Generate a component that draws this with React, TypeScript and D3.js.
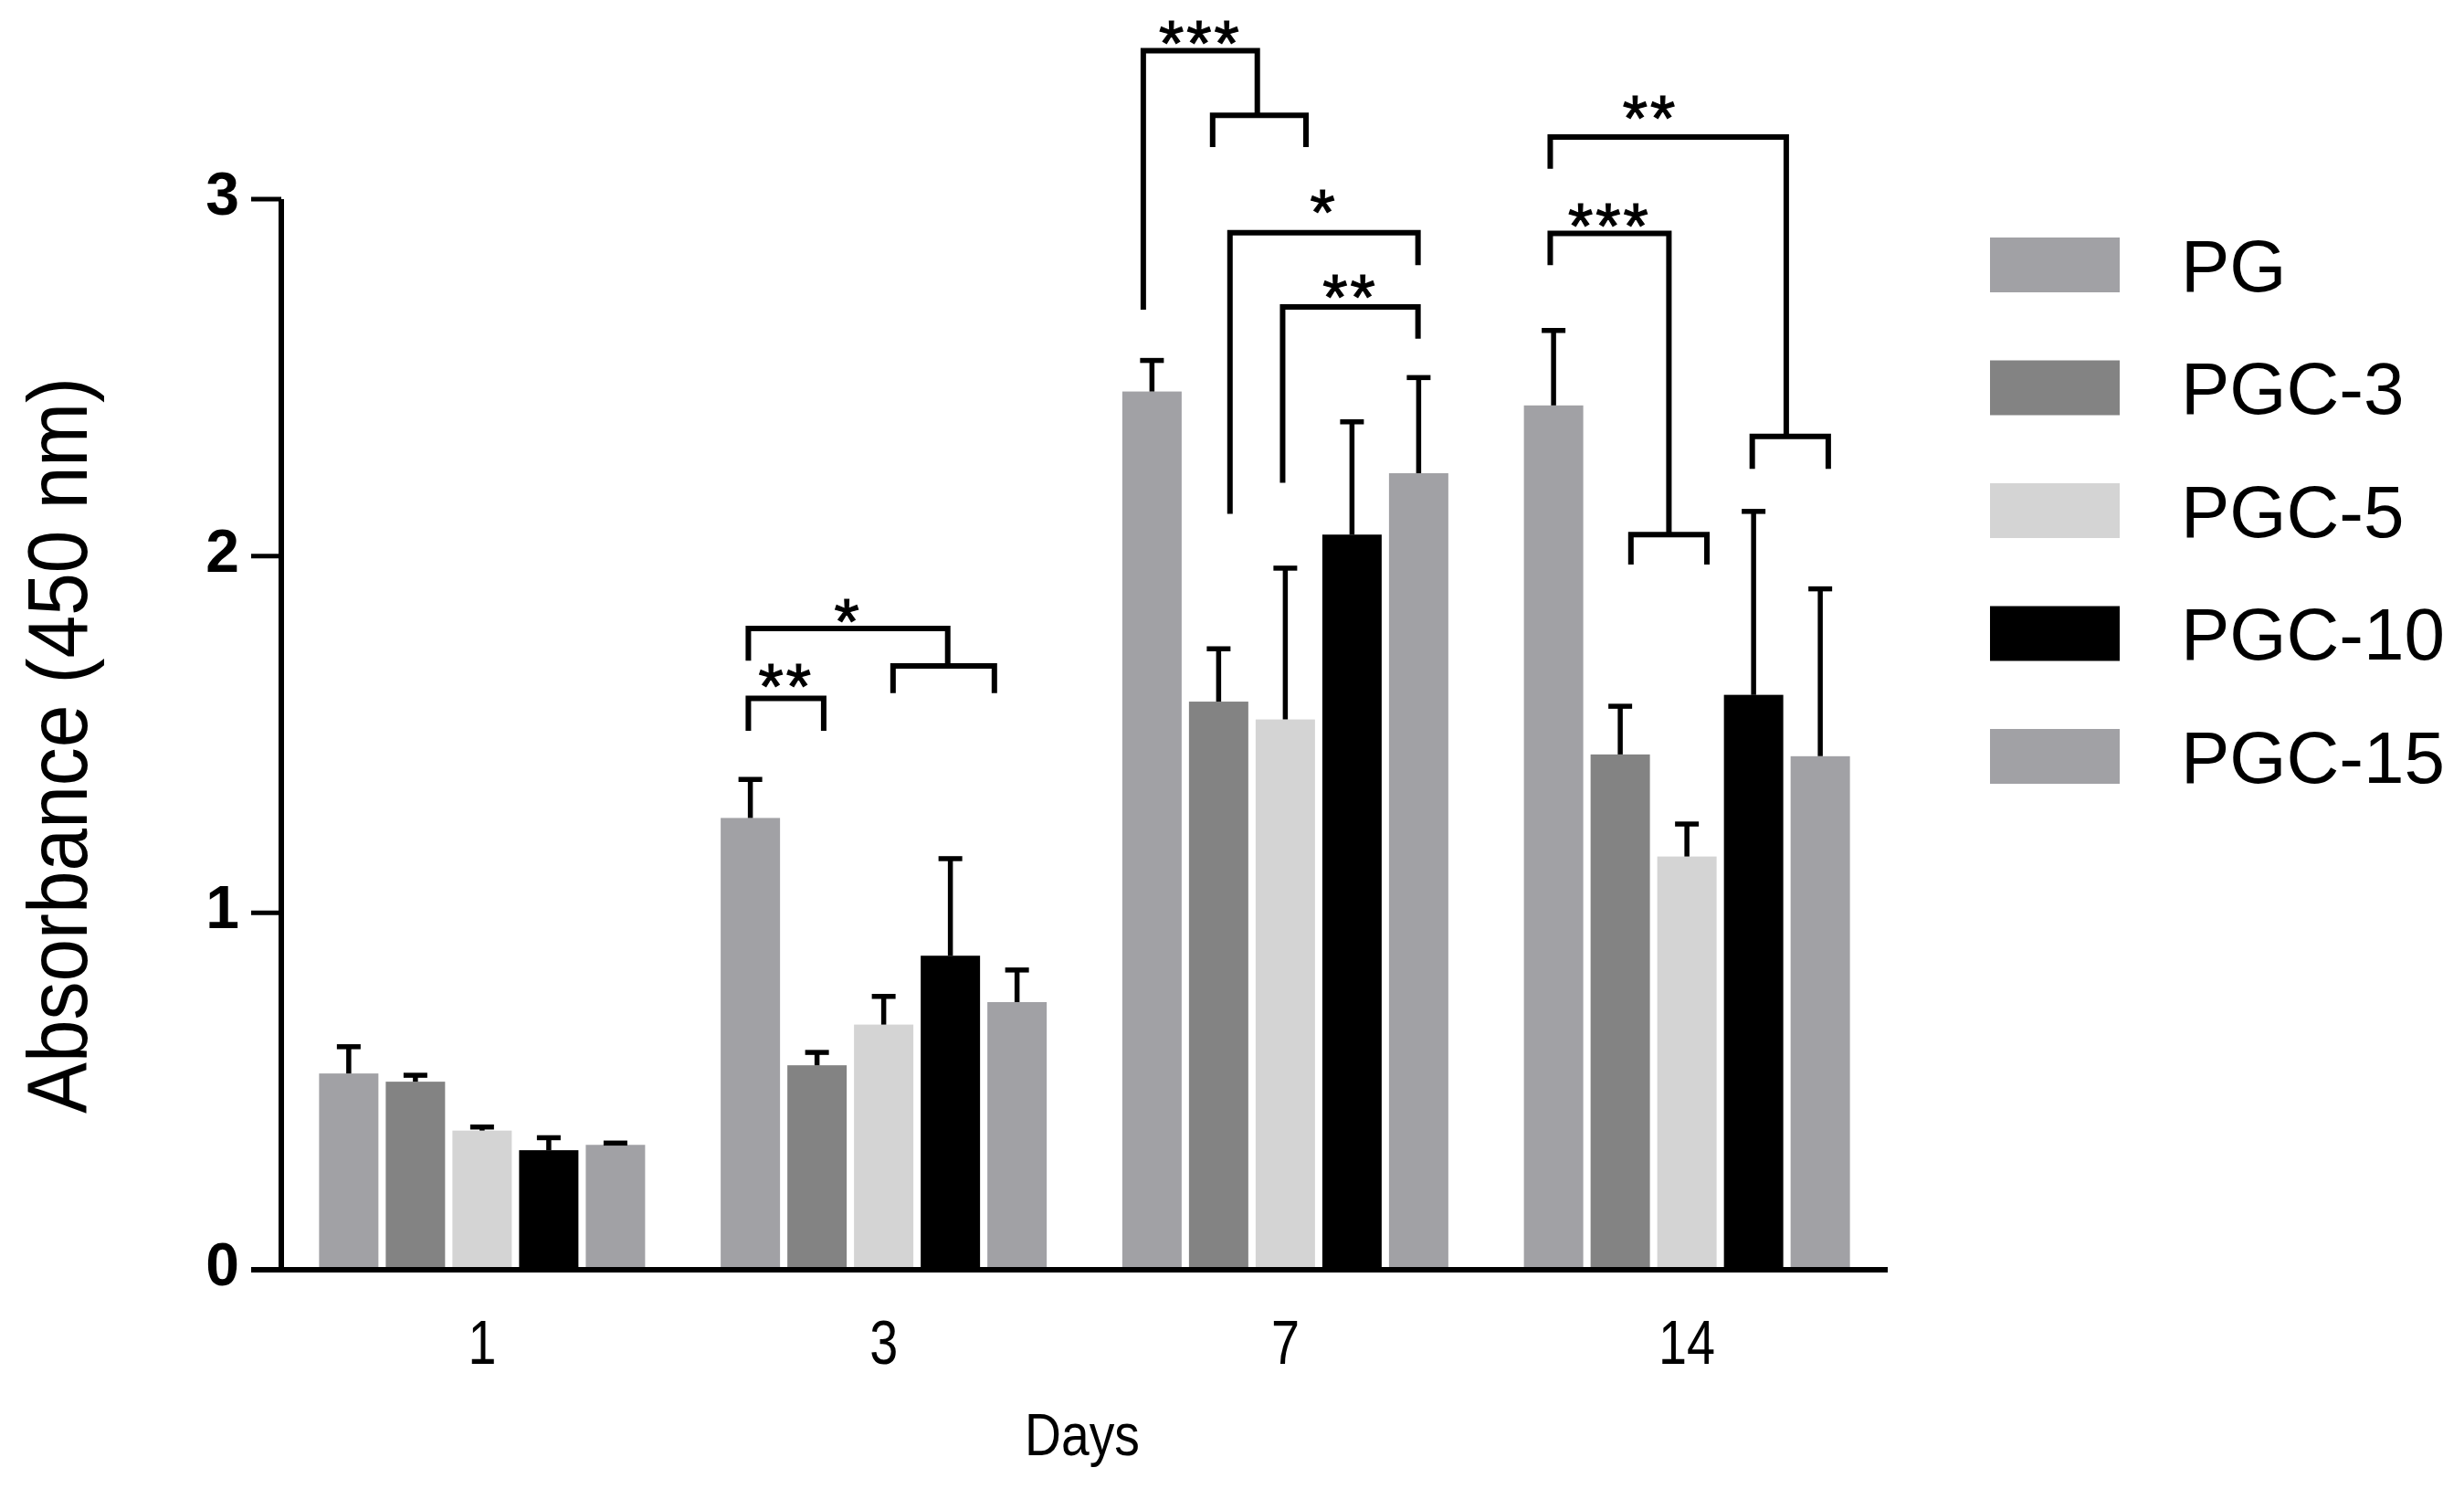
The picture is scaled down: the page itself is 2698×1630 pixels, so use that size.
import React from "react";
import * as d3 from "d3";

const days = ["1", "3", "7", "14"];
const series = ["PG", "PGC-3", "PGC-5", "PGC-10", "PGC-15"];
const colors = ["#a1a1a5", "#838383", "#d4d4d4", "#000000", "#a1a1a5"];

const meanPG = [0.55, 1.266, 2.461, 2.422];
const meanPGC3 = [0.527, 0.573, 1.592, 1.444];
const meanPGC5 = [0.39, 0.687, 1.542, 1.158];
const meanPGC10 = [0.335, 0.88, 2.06, 1.611];
const meanPGC15 = [0.35, 0.75, 2.232, 1.439];

const sdPG = [0.075, 0.108, 0.087, 0.21];
const sdPGC3 = [0.018, 0.036, 0.148, 0.135];
const sdPGC5 = [0.01, 0.079, 0.424, 0.091];
const sdPGC10 = [0.035, 0.272, 0.316, 0.514];
const sdPGC15 = [0.005, 0.09, 0.268, 0.469];

const yTicks = [0, 1, 2, 3];

// significance brackets: x in series-index units within the day group, y in data units
const brackets = [
  { day: "3", x1: -0.03, x2: 1.1, top: 1.601, leg1: 1.51, leg2: 1.51, label: "**", labelV: 1.674 },
  { day: "3", x1: -0.03, x2: 2.96, top: 1.797, leg1: 1.707, leg2: 1.692, label: "*", labelV: 1.856 },
  { day: "3", x1: 2.14, x2: 3.66, top: 1.692, leg1: 1.616, leg2: 1.616, label: "", labelV: 0 },
  { day: "7", x1: -0.13, x2: 1.58, top: 3.416, leg1: 2.69, leg2: 3.235, label: "***", labelV: 3.478 },
  { day: "7", x1: 0.91, x2: 2.31, top: 3.235, leg1: 3.146, leg2: 3.146, label: "", labelV: 0 },
  { day: "7", x1: 1.17, x2: 3.99, top: 2.906, leg1: 2.118, leg2: 2.815, label: "*", labelV: 3.002 },
  { day: "7", x1: 1.96, x2: 3.99, top: 2.698, leg1: 2.205, leg2: 2.609, label: "**", labelV: 2.764 },
  { day: "14", x1: -0.05, x2: 3.49, top: 3.174, leg1: 3.085, leg2: 2.335, label: "**", labelV: 3.266, labelX: 1.45 },
  { day: "14", x1: 2.98, x2: 4.12, top: 2.335, leg1: 2.244, leg2: 2.244, label: "", labelV: 0 },
  { day: "14", x1: -0.05, x2: 1.73, top: 2.904, leg1: 2.815, leg2: 2.06, label: "***", labelV: 2.964 },
  { day: "14", x1: 1.16, x2: 2.3, top: 2.06, leg1: 1.976, leg2: 1.976, label: "", labelV: 0 },
];

export default function App() {
  const means = [meanPG, meanPGC3, meanPGC5, meanPGC10, meanPGC15];
  const sds = [sdPG, sdPGC3, sdPGC5, sdPGC10, sdPGC15];

  const axisX0 = 308;
  const axisX1 = 2067;
  const x0 = d3.scaleBand<string>().domain(days).range([axisX0, axisX1]).paddingInner(0).paddingOuter(0);
  const x1 = d3.scaleBand<string>().domain(series).range([-178.5, 178.5]).paddingInner(0.11);
  const y = d3.scaleLinear().domain([0, 3]).range([1390, 218]);
  const bw = x1.bandwidth();
  const step = x1.step();
  const gc = (d: string) => (x0(d) as number) + x0.bandwidth() / 2;
  const idxX = (d: string, idx: number) => gc(d) + (x1(series[0]) as number) + bw / 2 + idx * step;

  const starFont = 70;
  const font = "'Liberation Sans', Arial, sans-serif";

  return (
    <svg width={2698} height={1630} style={{ position: "fixed", left: 0, top: 0, background: "#fff" }} fontFamily={font}>
      <rect x={0} y={0} width={2698} height={1630} fill="#fff" />
      {/* bars */}
      {days.map((d, di) =>
        series.map((s, si) => {
          const v = means[si][di];
          const bx = gc(d) + (x1(s) as number);
          return <rect key={d + s} x={bx} y={y(v)} width={bw} height={y(0) - y(v)} fill={colors[si]} />;
        })
      )}
      {/* error bars */}
      {days.map((d, di) =>
        series.map((s, si) => {
          const v = means[si][di];
          const e = v + sds[si][di];
          const cx = gc(d) + (x1(s) as number) + bw / 2;
          return (
            <g key={"e" + d + s} stroke="#000" strokeWidth={5.5}>
              <line x1={cx} x2={cx} y1={y(v)} y2={y(e)} />
              <line x1={cx - 13} x2={cx + 13} y1={y(e)} y2={y(e)} />
            </g>
          );
        })
      )}
      {/* axes */}
      <line x1={axisX0} x2={axisX0} y1={y(3)} y2={y(0) + 3} stroke="#000" strokeWidth={6} />
      <line x1={axisX0 - 33} x2={axisX1} y1={y(0)} y2={y(0)} stroke="#000" strokeWidth={6} />
      {yTicks.map((t) => (
        <g key={"t" + t}>
          <line x1={axisX0 - 33} x2={axisX0} y1={y(t)} y2={y(t)} stroke="#000" strokeWidth={5} />
          <text x={262} y={y(t) + 17} textAnchor="end" fontSize={66} fontWeight="bold">
            {t}
          </text>
        </g>
      ))}
      {days.map((d) => (
        <text key={"xl" + d} transform={`translate(${gc(d)},1493) scale(0.82,1)`} textAnchor="middle" fontSize={68}>
          {d}
        </text>
      ))}
      <text transform="translate(1185,1593) scale(0.85,1)" textAnchor="middle" fontSize={65}>
        Days
      </text>
      <text
        transform="translate(95,816) rotate(-90)"
        textAnchor="middle"
        fontSize={92}
        textLength={806}
        lengthAdjust="spacingAndGlyphs"
      >
        Absorbance (450 nm)
      </text>
      {/* brackets */}
      {brackets.map((b, i) => {
        const xa = idxX(b.day, b.x1);
        const xb = idxX(b.day, b.x2);
        const p = `M${xa},${y(b.leg1)}V${y(b.top)}H${xb}V${y(b.leg2)}`;
        const lx = b.labelX !== undefined ? idxX(b.day, b.labelX) : (xa + xb) / 2;
        return (
          <g key={"b" + i}>
            <path d={p} fill="none" stroke="#000" strokeWidth={6} strokeLinejoin="miter" />
            {b.label && (
              <text
                x={lx}
                y={y(b.labelV) + 0.575 * starFont}
                textAnchor="middle"
                fontSize={starFont}
                letterSpacing={3}
                stroke="#000"
                strokeWidth={1.2}
              >
                {b.label}
              </text>
            )}
          </g>
        );
      })}
      {/* legend */}
      {series.map((s, i) => {
        const top = 260 + i * 134.5;
        return (
          <g key={"lg" + s}>
            <rect x={2179} y={top} width={142} height={60} fill={colors[i]} />
            <text x={2388} y={top + 30 + 0.358 * 80} fontSize={80}>
              {s}
            </text>
          </g>
        );
      })}
    </svg>
  );
}
